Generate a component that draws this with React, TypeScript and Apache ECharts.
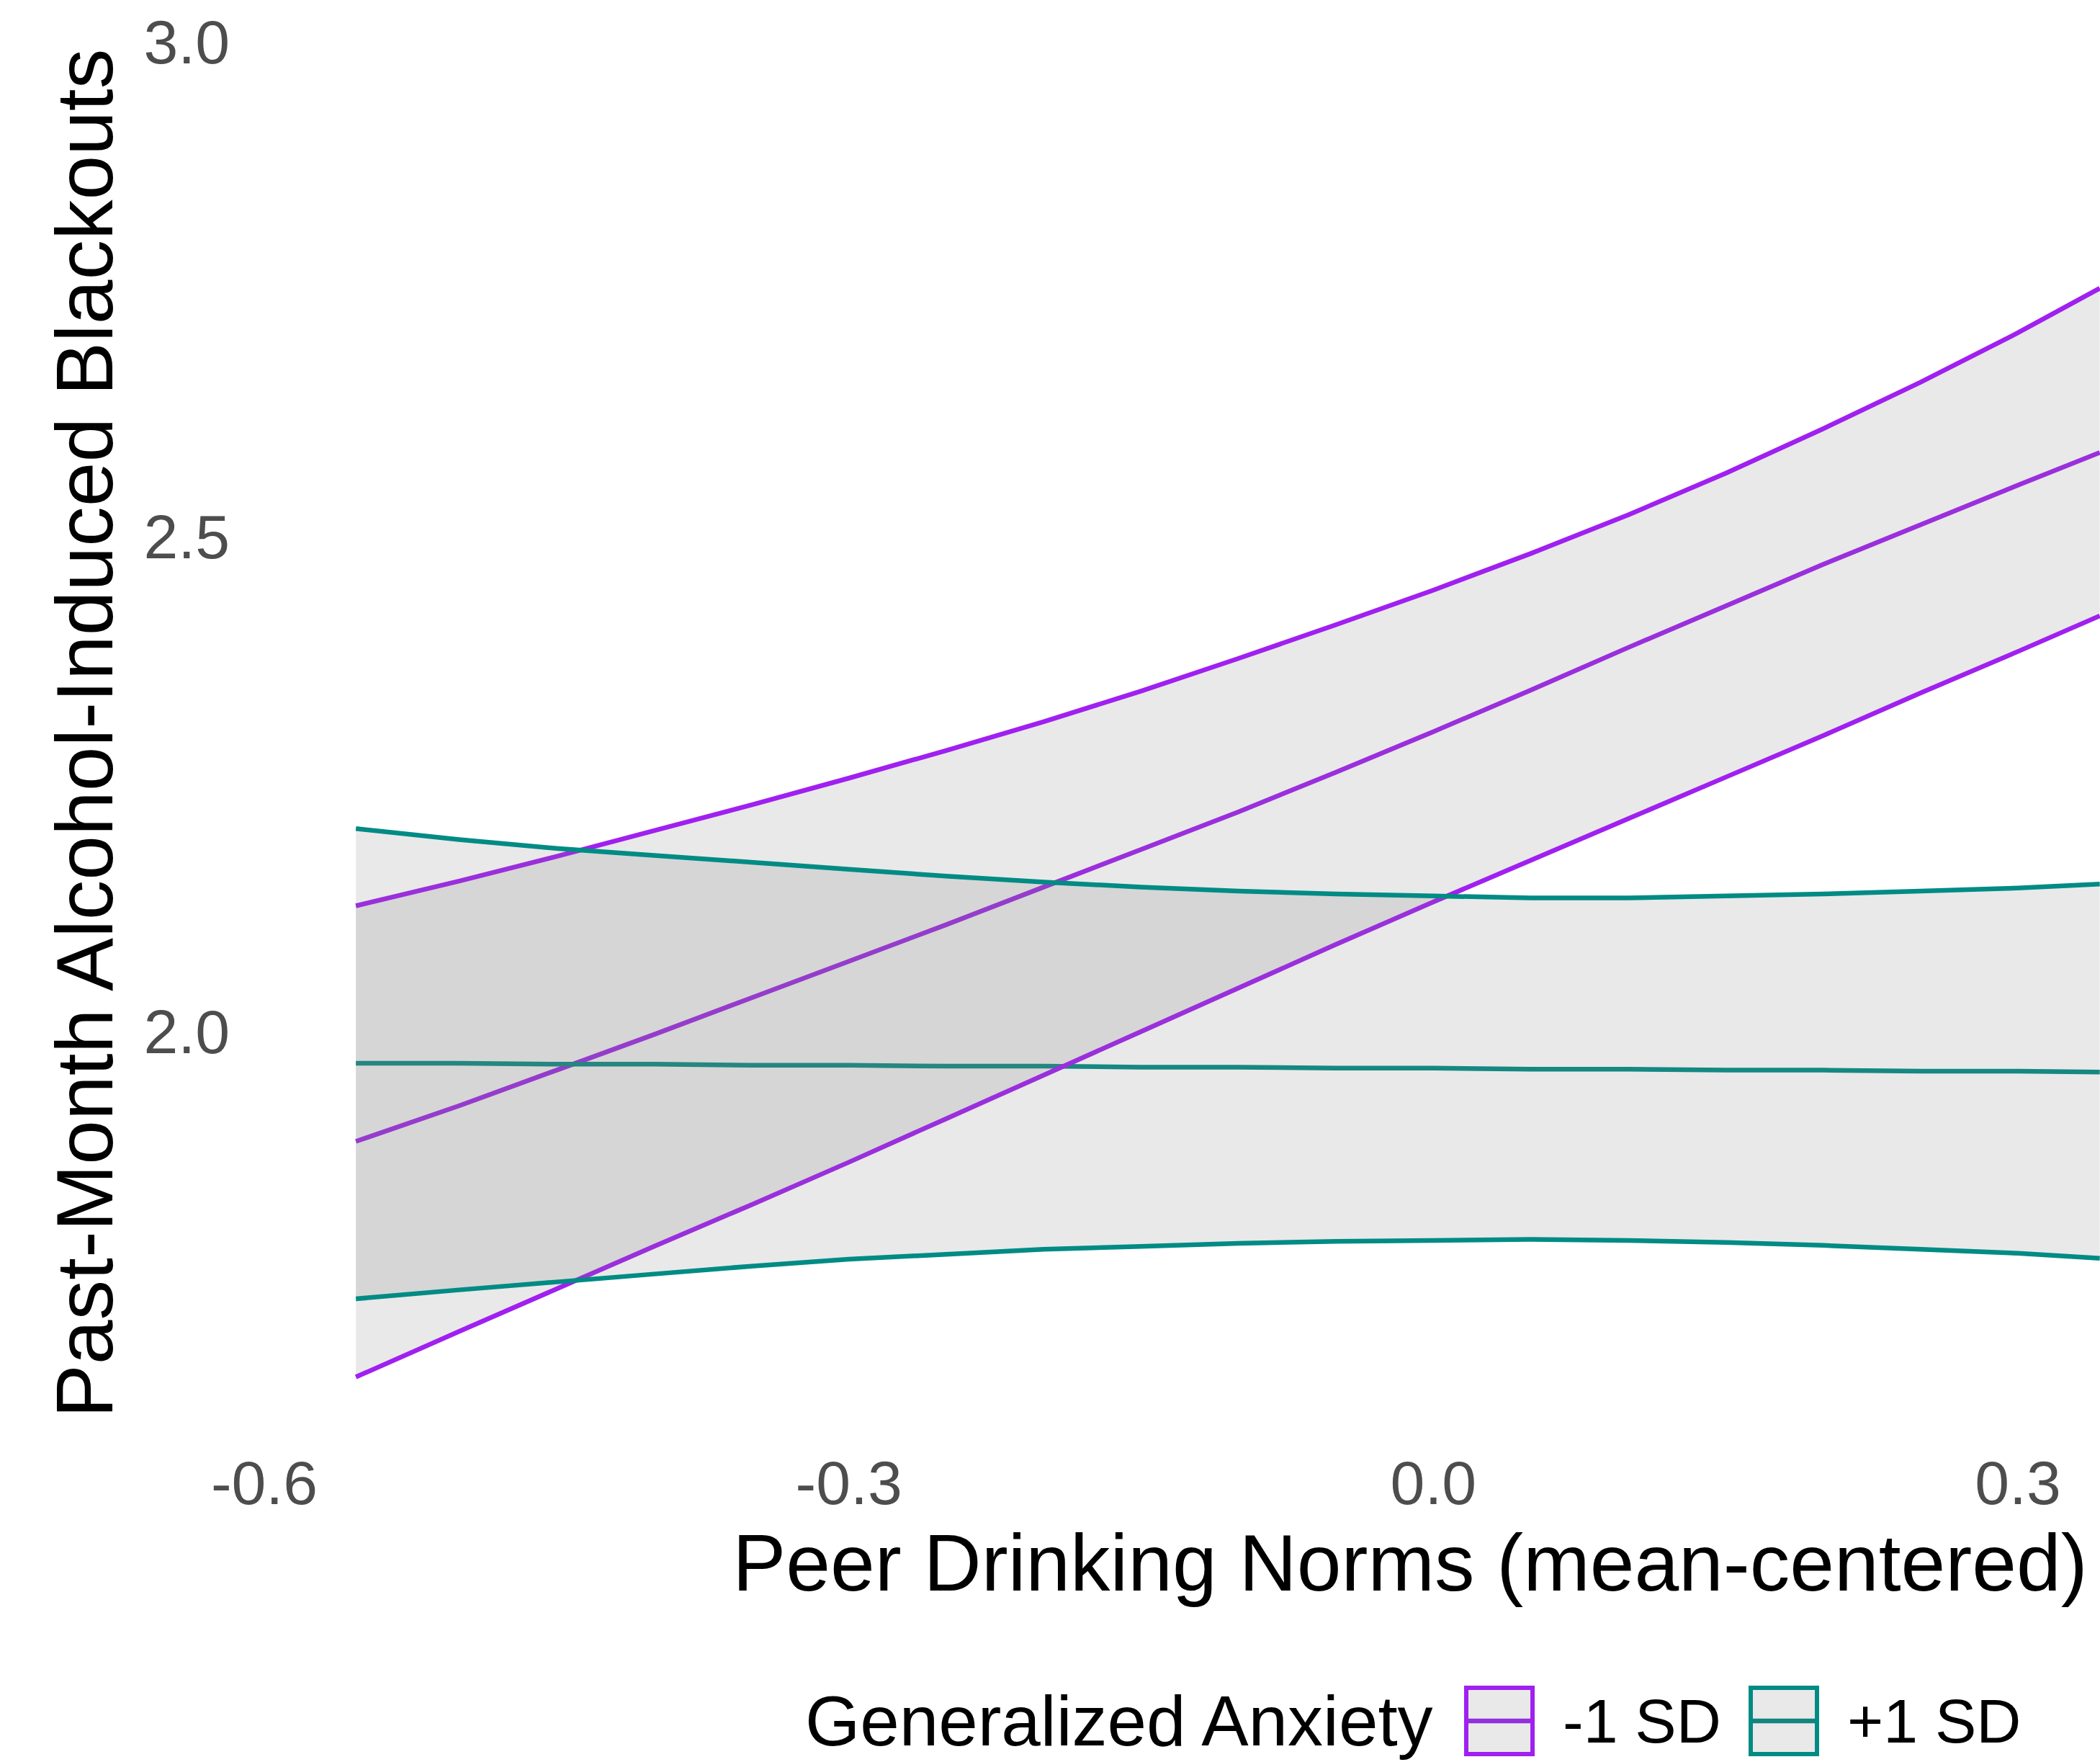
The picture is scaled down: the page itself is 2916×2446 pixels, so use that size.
import React, { useEffect, useRef } from "react";
import * as echarts from "echarts";

// Peer drinking norms (mean-centered) at which the curves were read
const xs = [-0.553, -0.5, -0.45, -0.4, -0.35, -0.3, -0.25, -0.2, -0.15, -0.1, -0.05, 0, 0.05, 0.1, 0.15, 0.2, 0.25, 0.3, 0.342];

// Generalized Anxiety -1 SD
const lowMean = [1.889, 1.925, 1.961, 1.997, 2.034, 2.071, 2.108, 2.146, 2.184, 2.222, 2.262, 2.303, 2.345, 2.388, 2.43, 2.472, 2.512, 2.552, 2.585];
const lowUpper = [2.127, 2.152, 2.177, 2.203, 2.229, 2.256, 2.284, 2.313, 2.344, 2.377, 2.411, 2.446, 2.483, 2.522, 2.564, 2.609, 2.656, 2.706, 2.751];
const lowLower = [1.651, 1.697, 1.74, 1.783, 1.825, 1.868, 1.912, 1.956, 2.0, 2.044, 2.088, 2.131, 2.173, 2.215, 2.257, 2.299, 2.342, 2.384, 2.42];

// Generalized Anxiety +1 SD
const highMean = [1.968, 1.968, 1.967, 1.967, 1.966, 1.966, 1.965, 1.965, 1.964, 1.964, 1.963, 1.963, 1.962, 1.962, 1.961, 1.961, 1.96, 1.96, 1.959];
const highUpper = [2.205, 2.194, 2.185, 2.178, 2.171, 2.164, 2.157, 2.151, 2.146, 2.142, 2.139, 2.137, 2.135, 2.135, 2.137, 2.139, 2.142, 2.145, 2.149];
const highLower = [1.73, 1.739, 1.747, 1.755, 1.763, 1.77, 1.775, 1.78, 1.783, 1.786, 1.788, 1.789, 1.79, 1.789, 1.787, 1.784, 1.78, 1.776, 1.771];

const xTicks = [-0.6, -0.3, 0.0, 0.3];
const yTicks = [2.0, 2.5, 3.0];
const groupLabels = ["-1 SD", "+1 SD"];

const W = 2916;
const H = 2446;
const FONT = "Liberation Sans";
const PURPLE = "#A020F0";
const TEAL = "#008B84";
const PURPLE_KEY = "#9130DC";
const TEAL_KEY = "#13847E";
const FILL = "rgba(127,127,127,0.17)";
const LW = 6.5;

const pts = (arr: number[]) => xs.map((x, i) => [x, arr[i]]);

function ribbon(lower: number[], upper: number[], z: number) {
  return {
    type: "custom",
    data: xs.map((x, i) => [x, lower[i], upper[i]]),
    encode: { x: 0, y: [1, 2] },
    clip: true,
    silent: true,
    z,
    renderItem: (params: any, api: any) => {
      if (params.dataIndex !== 0) return null;
      const top = xs.map((x, i) => api.coord([x, upper[i]]));
      const bot = xs.map((x, i) => api.coord([x, lower[i]])).reverse();
      return {
        type: "polygon",
        shape: { points: top.concat(bot) },
        style: { fill: FILL, stroke: "none" },
      };
    },
  };
}

function line(arr: number[], color: string, z: number) {
  return {
    type: "line",
    data: pts(arr),
    symbol: "none",
    lineStyle: { color, width: LW, cap: "butt", join: "round" },
    itemStyle: { color },
    z,
    silent: true,
  };
}

export default function App() {
  const ref = useRef<HTMLDivElement>(null);
  useEffect(() => {
    if (!ref.current) return;
    const chart = echarts.init(ref.current, null, { renderer: "svg" });
    const yMax = 3 + 58 / 1374;
    const yMin = 1.6;
    const gridH = (yMax - yMin) * 1374;
    const xMin = -0.6;
    const xMax = xMin + (W - 367) / 2705.6;

    const keyBox = (x: number, color: string, lineColor: string) => [
      {
        type: "rect",
        shape: { x: x + 3, y: 2343, width: 92, height: 92 },
        style: { fill: "#E9E9E9", stroke: color, lineWidth: 6 },
      },
      {
        type: "line",
        shape: { x1: x + 6, y1: 2389, x2: x + 92, y2: 2389 },
        style: { stroke: lineColor, lineWidth: LW },
      },
    ];

    chart.setOption({
      animation: false,
      backgroundColor: "#FFFFFF",
      textStyle: { fontFamily: FONT },
      grid: { left: 367, right: 0, top: 0, height: gridH },
      xAxis: {
        type: "value",
        min: xMin,
        max: xMax,
        axisLine: { show: false },
        axisTick: { show: false },
        splitLine: { show: false },
        axisLabel: {
          customValues: xTicks,
          formatter: (v: number) => v.toFixed(1),
          color: "#4D4D4D",
          fontSize: 86,
          fontFamily: FONT,
          margin: 33,
        },
      },
      yAxis: {
        type: "value",
        min: yMin,
        max: yMax,
        axisLine: { show: false },
        axisTick: { show: false },
        splitLine: { show: false },
        axisLabel: {
          customValues: yTicks,
          formatter: (v: number) => v.toFixed(1),
          color: "#4D4D4D",
          fontSize: 86,
          fontFamily: FONT,
          margin: 48,
        },
      },
      series: [
        line(lowMean, PURPLE, 1),
        line(highMean, TEAL, 1),
        ribbon(lowLower, lowUpper, 2),
        line(lowUpper, PURPLE, 3),
        line(lowLower, PURPLE, 3),
        ribbon(highLower, highUpper, 4),
        line(highUpper, TEAL, 5),
        line(highLower, TEAL, 5),
      ],
      graphic: [
        {
          type: "text",
          x: 118,
          y: 1018,
          rotation: Math.PI / 2,
          style: {
            text: "Past-Month Alcohol-Induced Blackouts",
            fontSize: 111,
            fontFamily: FONT,
            fill: "#000000",
            align: "center",
            verticalAlign: "middle",
          },
        },
        {
          type: "text",
          x: 1958,
          y: 2170,
          style: {
            text: "Peer Drinking Norms (mean-centered)",
            fontSize: 111,
            fontFamily: FONT,
            fill: "#000000",
            align: "center",
            verticalAlign: "middle",
          },
        },
        {
          type: "text",
          x: 1118,
          y: 2389,
          style: {
            text: "Generalized Anxiety",
            fontSize: 98,
            fontFamily: FONT,
            fill: "#000000",
            align: "left",
            verticalAlign: "middle",
          },
        },
        ...keyBox(2033, PURPLE, PURPLE_KEY),
        {
          type: "text",
          x: 2170,
          y: 2389,
          style: {
            text: groupLabels[0],
            fontSize: 86,
            fontFamily: FONT,
            fill: "#000000",
            align: "left",
            verticalAlign: "middle",
          },
        },
        ...keyBox(2428, TEAL, TEAL_KEY),
        {
          type: "text",
          x: 2565,
          y: 2389,
          style: {
            text: groupLabels[1],
            fontSize: 86,
            fontFamily: FONT,
            fill: "#000000",
            align: "left",
            verticalAlign: "middle",
          },
        },
      ],
    });
    return () => chart.dispose();
  }, []);

  return (
    <div
      ref={ref}
      style={{ position: "fixed", left: 0, top: 0, width: W, height: H, background: "#FFFFFF" }}
    />
  );
}
